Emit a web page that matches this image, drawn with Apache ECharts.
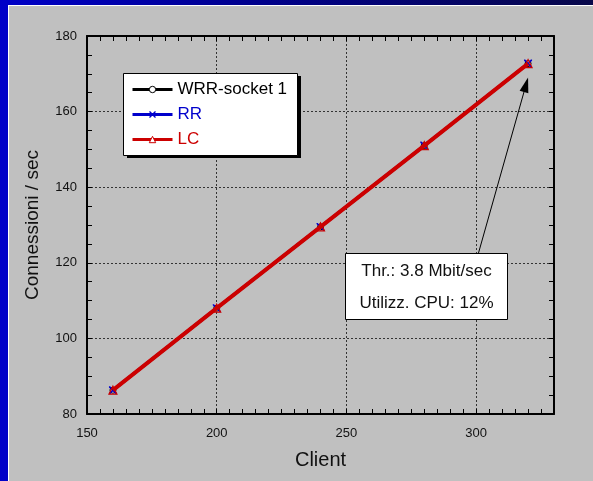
<!DOCTYPE html>
<html>
<head>
<meta charset="utf-8">
<script src="https://cdn.jsdelivr.net/npm/echarts@6/dist/echarts.min.js"></script>
<style>
  html, body { margin: 0; padding: 0; width: 593px; height: 481px; overflow: hidden; background: #0000c8; }
  #band { position: absolute; left: 0; top: 0; width: 593px; height: 5px;
          background: linear-gradient(to right, #0000c8 0%, #00008a 45%, #08084a 100%); }
  #panel { position: absolute; left: 8px; top: 5px; width: 585px; height: 476px;
           background: #c0c0c0; border-left: 1px solid #ffffff; border-top: 1px solid #ffffff; box-sizing: border-box; }
  #chart { position: absolute; left: 0; top: 0; width: 593px; height: 481px; }
</style>
</head>
<body>
<div id="band"></div>
<div id="panel"></div>
<div id="chart"></div>
<script>
// Connections per second vs. number of clients, three scheduling policies
const clients = [160, 200, 240, 280, 320];
const wrrSocket1 = [86.3, 108.0, 129.5, 151.0, 172.7];
const rr = [86.3, 108.0, 129.5, 151.0, 172.7];
const lc = [86.3, 108.0, 129.5, 151.0, 172.7];

const seriesNames = ['WRR-socket 1', 'RR', 'LC'];
const seriesColors = ['#000000', '#0000cc', '#cc0000'];
const xTicks = { min: 150, max: 330, major: 50, minor: 5 };
const yTicks = { min: 80, max: 180, major: 20, minor: 5 };

const FONT = 'Liberation Sans, Arial, sans-serif';
const crossPath = 'path://M0,0 L3,0 L10,7 L17,0 L20,0 L20,3 L13,10 L20,17 L20,20 L17,20 L10,13 L3,20 L0,20 L0,17 L7,10 L0,3 Z';

function pairs(ys) { return clients.map((x, i) => [x, ys[i]]); }

const chart = echarts.init(document.getElementById('chart'), null, { renderer: 'canvas' });

const dashed = { show: true, lineStyle: { color: '#333333', width: 1, type: [2, 2] } };
const tickAxis = (extra) => Object.assign({
  type: 'value', axisLabel: { show: false }, splitLine: { show: false },
  axisTick: { show: true, inside: true, length: 5, lineStyle: { color: '#000', width: 1 } },
  axisLine: { show: false }
}, extra);

const legendItemStyles = [
  { color: '#ffffff', borderColor: seriesColors[0], borderWidth: 1 },
  { color: seriesColors[1] },
  { color: '#ffffff', borderColor: seriesColors[2], borderWidth: 1 }
];

const option = {
  backgroundColor: 'transparent',
  animation: false,
  textStyle: { fontFamily: FONT },
  grid: { left: 87, right: 39, top: 36, bottom: 67 },
  xAxis: [
    {
      type: 'value', min: xTicks.min, max: xTicks.max, interval: xTicks.major,
      name: 'Client', nameLocation: 'middle', nameGap: 36,
      nameTextStyle: { color: '#111', fontSize: 20, fontFamily: FONT },
      axisLine: { show: true, onZero: false, lineStyle: { color: '#000', width: 2 } },
      axisTick: { show: false },
      axisLabel: { color: '#111', fontSize: 13, margin: 13, showMaxLabel: false, fontFamily: FONT },
      splitLine: dashed
    },
    tickAxis({ min: xTicks.min, max: xTicks.max, interval: xTicks.minor, position: 'bottom' }),
    tickAxis({ min: xTicks.min, max: xTicks.max, interval: xTicks.minor, position: 'top',
               axisLine: { show: true, onZero: false, lineStyle: { color: '#000', width: 2 } } })
  ],
  yAxis: [
    {
      type: 'value', min: yTicks.min, max: yTicks.max, interval: yTicks.major,
      name: 'Connessioni / sec', nameLocation: 'middle', nameGap: 45, nameRotate: 90,
      nameTextStyle: { color: '#111', fontSize: 19, fontFamily: FONT },
      axisLine: { show: true, onZero: false, lineStyle: { color: '#000', width: 2 } },
      axisTick: { show: false },
      axisLabel: { color: '#111', fontSize: 13, margin: 10, fontFamily: FONT },
      splitLine: dashed
    },
    tickAxis({ min: yTicks.min, max: yTicks.max, interval: yTicks.minor, position: 'left' }),
    tickAxis({ min: yTicks.min, max: yTicks.max, interval: yTicks.minor, position: 'right',
               axisLine: { show: true, onZero: false, lineStyle: { color: '#000', width: 2 } } })
  ],
  legend: {
    orient: 'vertical', left: 131, top: 81, itemWidth: 40, itemHeight: 8, itemGap: 8,
    backgroundColor: 'transparent', padding: 0,
    data: seriesNames.map((n, i) => ({
      name: n,
      lineStyle: { width: 3, color: seriesColors[i] },
      itemStyle: legendItemStyles[i],
      textStyle: { color: seriesColors[i], fontSize: 17, fontFamily: FONT }
    }))
  },
  series: [
    {
      name: seriesNames[0], type: 'line', data: pairs(wrrSocket1), z: 2,
      symbol: 'circle', symbolSize: 6, showAllSymbol: true,
      lineStyle: { color: seriesColors[0], width: 3 },
      itemStyle: { color: '#ffffff', borderColor: seriesColors[0], borderWidth: 1 }
    },
    {
      name: seriesNames[1], type: 'line', data: pairs(rr), z: 3,
      symbol: crossPath, symbolSize: 8,
      lineStyle: { color: seriesColors[1], width: 3 },
      itemStyle: { color: seriesColors[1] }
    },
    {
      name: seriesNames[2], type: 'line', data: pairs(lc), z: 4,
      symbol: 'triangle', symbolSize: 8,
      lineStyle: { color: seriesColors[2], width: 4 },
      itemStyle: { color: 'rgba(0,0,0,0)', borderColor: seriesColors[2], borderWidth: 1.2 }
    }
  ]
};

chart.setOption(option);

// Legend frame with a solid drop shadow, and the annotation box with its arrow
function buildOverlay() {
  const tail = chart.convertToPixel({ xAxisIndex: 0, yAxisIndex: 0 }, [300.9, 122.6]);
  const tip = chart.convertToPixel({ xAxisIndex: 0, yAxisIndex: 0 }, [320, 169]);
  const dx = tip[0] - tail[0], dy = tip[1] - tail[1];
  const len = Math.sqrt(dx * dx + dy * dy);
  const ux = dx / len, uy = dy / len;
  const headLen = 15, headHalf = 4.5;
  const bx = tip[0] - ux * headLen, by = tip[1] - uy * headLen;
  const head = [
    [tip[0], tip[1]],
    [bx - uy * headHalf, by + ux * headHalf],
    [bx + uy * headHalf, by - ux * headHalf]
  ];
  chart.setOption({
    graphic: [
      { type: 'rect', z: 3, shape: { x: 127, y: 76, width: 174, height: 82 }, style: { fill: '#000' } },
      { type: 'rect', z: 3, shape: { x: 123.5, y: 73.5, width: 174, height: 82 },
        style: { fill: '#ffffff', stroke: '#000', lineWidth: 1 } },
      { type: 'rect', z: 6, shape: { x: 345.5, y: 253.5, width: 162, height: 66 },
        style: { fill: '#ffffff', stroke: '#000', lineWidth: 1 } },
      { type: 'text', z: 7, style: { x: 426.5, y: 271, text: 'Thr.: 3.8 Mbit/sec', fill: '#111',
        font: '17px ' + FONT, align: 'center', verticalAlign: 'middle' } },
      { type: 'text', z: 7, style: { x: 426.5, y: 303, text: 'Utilizz. CPU: 12%', fill: '#111',
        font: '17px ' + FONT, align: 'center', verticalAlign: 'middle' } },
      { type: 'line', z: 6, shape: { x1: tail[0], y1: tail[1], x2: bx + ux * 2, y2: by + uy * 2 },
        style: { stroke: '#000', lineWidth: 1 } },
      { type: 'polygon', z: 6, shape: { points: head }, style: { fill: '#000' } }
    ]
  });
}
buildOverlay();
</script>
</body>
</html>
